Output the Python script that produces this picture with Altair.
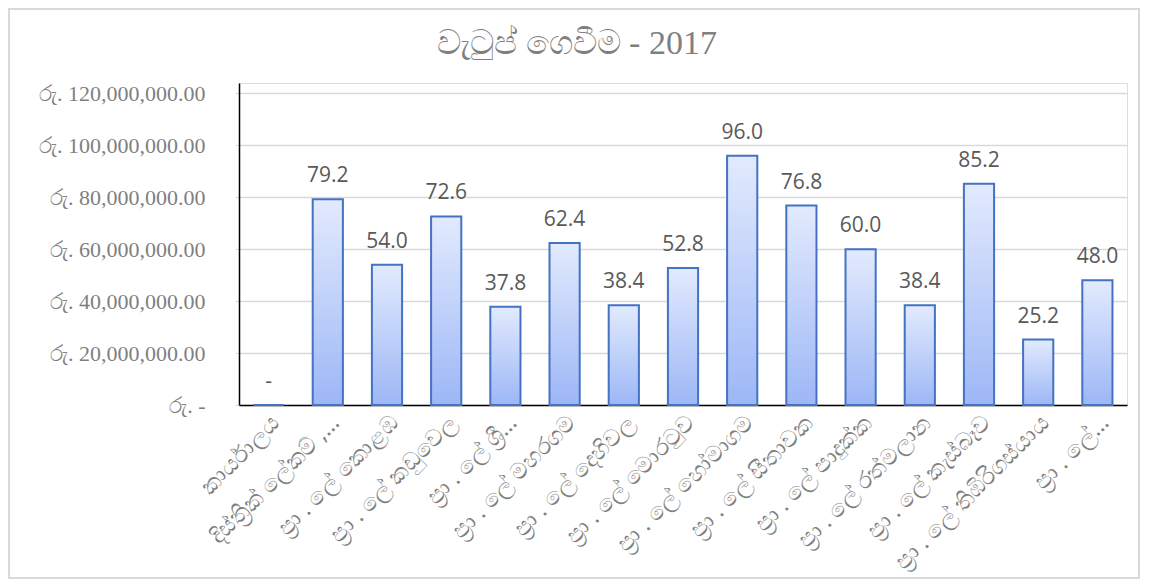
import altair as alt
import pandas as pd

categories = [
    "කාර්යාලය",
    "දිස්ත්‍රික් ලේකම් ,…",
    "ප්‍රා . ලේ කොළඹ",
    "ප්‍රා . ලේ කඩුවෙල",
    "ප්‍රා . ලේ ශ්‍රී…",
    "ප්‍රා . ලේ මහරගම",
    "ප්‍රා . ලේ දෙහිවල",
    "ප්‍රා . ලේ මොරටුව",
    "ප්‍රා . ලේ හෝමාගම",
    "ප්‍රා . ලේ සීතාවක",
    "ප්‍රා . ලේ පාදුක්ක",
    "ප්‍රා . ලේ රත්මලාන",
    "ප්‍රා . ලේ කැස්බෑව",
    "ප්‍රා . ලේ තිඹිරිගස්යාය",
    "ප්‍රා . ලේ…",
]
values = [0, 79.2e6, 54.0e6, 72.6e6, 37.8e6, 62.4e6, 38.4e6, 52.8e6,
          96.0e6, 76.8e6, 60.0e6, 38.4e6, 85.2e6, 25.2e6, 48.0e6]
y_ticks = [0, 20e6, 40e6, 60e6, 80e6, 100e6, 120e6]
title_text = "වැටුප් ගෙවීම - 2017"

df = pd.DataFrame({"cat": categories, "v": values})

W, H = 888, 322
PL, PT, PR, PB = 231, 75, 14, 175

x = alt.X("cat:N", sort=categories, title=None,
          scale=alt.Scale(paddingInner=0.49, paddingOuter=0.245),
          axis=alt.Axis(labelAngle=-45, labelFontSize=23, labelColor="#7f7f7f",
                        labelFont="Noto Sans", ticks=False, domainColor="#000000",
                        domainWidth=1.5, labelPadding=6, labelLimit=300))
y = alt.Y("v:Q", title=None,
          scale=alt.Scale(domain=[0, 124e6], nice=False),
          axis=alt.Axis(values=y_ticks, gridColor="#d9d9d9", gridWidth=1.5,
                        domainColor="#000000", domainWidth=1.5,
                        tickColor="#d9d9d9", tickSize=4,
                        labelFont="Liberation Serif", labelFontSize=22,
                        labelColor="#7f7f7f", labelPadding=30,
                        labelExpr="datum.value == 0 ? 'රු. -' : 'රු. ' + format(datum.value, ',.2f')"))

grad = alt.Gradient(
    gradient="linear",
    stops=[alt.GradientStop(color="#e2eafd", offset=0),
           alt.GradientStop(color="#9db7f6", offset=1)],
    x1=0, x2=0, y1=0, y2=1,
)

bars = alt.Chart(df).mark_bar(color=grad, stroke="#4472c4", strokeWidth=2).encode(x=x, y=y)

labels = alt.Chart(df).transform_calculate(
    lab="datum.v == 0 ? '-' : format(datum.v / 1e6, '.1f')"
).mark_text(baseline="bottom", dy=-13, fontSize=21, font="Open Sans",
            color="#595959").encode(x=x, y=y, text="lab:N")

frame = alt.Chart(df).mark_rect(fill=None, stroke="#d9d9d9", strokeWidth=1.5).encode(
    x=alt.value(-PL + 1), x2=alt.value(W + PR - 2),
    y=alt.value(-PT + 1), y2=alt.value(H + PB - 2),
)

title = alt.Chart(pd.DataFrame({"t": [title_text]})).mark_text(
    font="Liberation Serif", fontSize=34, color="#7f7f7f",
    align="center", baseline="alphabetic",
).encode(x=alt.value(338), y=alt.value(-29), text="t:N")

chart = alt.layer(frame, bars, labels, title).properties(
    width=W, height=H,
    autosize=alt.AutoSizeParams(type="none"),
    padding={"left": PL, "top": PT, "right": PR, "bottom": PB},
).configure_view(stroke=None).configure(background="white")

chart.save("out.html", embed_options={"renderer": "svg", "actions": False})
